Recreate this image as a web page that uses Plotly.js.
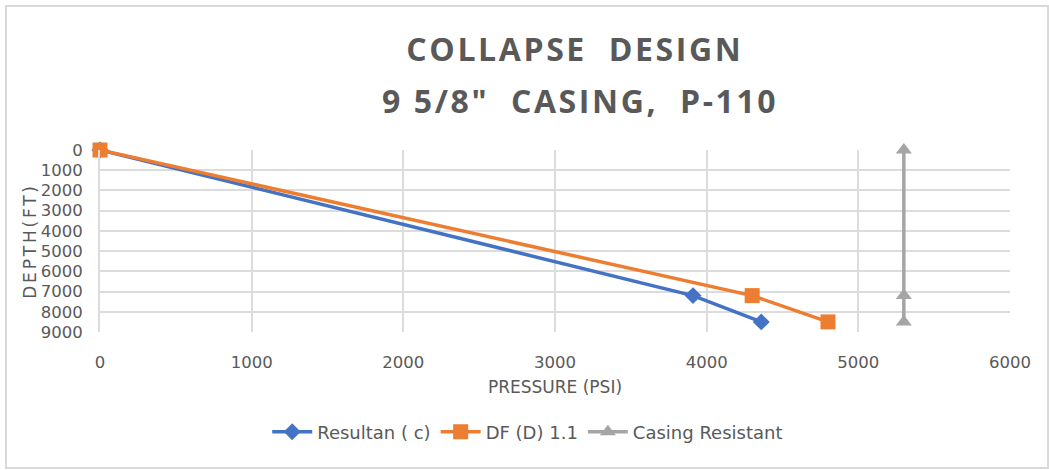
<!DOCTYPE html>
<html>
<head>
<meta charset="utf-8">
<script src="https://cdn.plot.ly/plotly-3.0.1.min.js"></script>
<style>
html, body { margin: 0; padding: 0; background: #fff; }
#frame { position: absolute; left: 5px; top: 5px; width: 1040px; height: 460px; border: 2px solid #d9d9d9; pointer-events: none; z-index: 10; }
#chart { position: absolute; left: 0; top: 0; width: 1049px; height: 470px; }
.gtitle, .annotation-text { letter-spacing: 2.6px; }
.ytitle { letter-spacing: 2.8px; }
</style>
</head>
<body>
<div id="chart"></div>
<div id="frame"></div>
<script>
const titleLines = ["COLLAPSE  DESIGN", "9 5/8\"  CASING,  P-110"];
const seriesNames = ["Resultan ( c)", "DF (D) 1.1", "Casing Resistant"];
const resultanPressure = [0, 3910, 4360];
const resultanDepth = [0, 7200, 8500];
const dfPressure = [0, 4300, 4800];
const dfDepth = [0, 7200, 8500];
const casingPressure = [5300, 5300, 5300];
const casingDepth = [0, 7200, 8500];
const xTicks = [0, 1000, 2000, 3000, 4000, 5000, 6000];
const yTicks = [0, 1000, 2000, 3000, 4000, 5000, 6000, 7000, 8000, 9000];

const font = "DejaVu Sans, sans-serif";
const titleFont = { family: "Open Sans, sans-serif", size: 32, color: "#595959", weight: "bold" };
const traces = [
  { x: resultanPressure, y: resultanDepth, name: seriesNames[0], mode: "lines+markers", cliponaxis: false,
    line: { color: "#4472C4", width: 3.5 }, marker: { symbol: "diamond", size: 13, color: "#4472C4" } },
  { x: dfPressure, y: dfDepth, name: seriesNames[1], mode: "lines+markers", cliponaxis: false,
    line: { color: "#ED7D31", width: 3.5 }, marker: { symbol: "square", size: 15, color: "#ED7D31" } },
  { x: casingPressure, y: casingDepth, name: seriesNames[2], mode: "lines+markers", cliponaxis: false,
    line: { color: "#A5A5A5", width: 3.5 }, marker: { symbol: "triangle-up", size: 14, color: "#A5A5A5" } }
];

const layout = {
  width: 1049, height: 470,
  margin: { l: 100, r: 39, t: 150, b: 138 },
  paper_bgcolor: "#fff", plot_bgcolor: "#fff",
  font: { family: font, color: "#595959" },
  title: { text: titleLines[0], x: 0.548, xanchor: "center", y: 1 - 50 / 470, yanchor: "middle", font: titleFont },
  annotations: [
    { text: titleLines[1], xref: "paper", yref: "paper", x: 0.528, xanchor: "center",
      y: (332 - 100) / 182, yanchor: "middle", showarrow: false, font: titleFont }
  ],
  xaxis: {
    range: [0, 6000], tickvals: xTicks, ticktext: xTicks.map(String),
    showgrid: true, gridcolor: "#dcdcdc", gridwidth: 2, zeroline: false, showline: false,
    tickfont: { family: font, size: 16.5, color: "#595959" }, ticks: "", ticklabelstandoff: 18,
    title: { text: "PRESSURE (PSI)", font: { family: font, size: 17, color: "#595959" }, standoff: 10 }
  },
  yaxis: {
    range: [9000, 0], tickvals: yTicks, ticktext: yTicks.map(String),
    showgrid: true, gridcolor: "#dcdcdc", gridwidth: 2, zeroline: false,
    showline: true, linecolor: "#dcdcdc", linewidth: 2,
    tickfont: { family: font, size: 16.5, color: "#595959" }, ticks: "", ticklabelstandoff: 12,
    title: { text: "DEPTH(FT)", font: { family: font, size: 17, color: "#595959" }, standoff: 0 }
  },
  showlegend: true,
  legend: { orientation: "h", x: 0.47, xanchor: "center", y: -0.55, yanchor: "middle",
    font: { family: font, size: 18, color: "#595959" }, itemwidth: 40, tracegroupgap: 0 }
};
Plotly.newPlot("chart", traces, layout, { displayModeBar: false, staticPlot: true });
</script>
</body>
</html>
